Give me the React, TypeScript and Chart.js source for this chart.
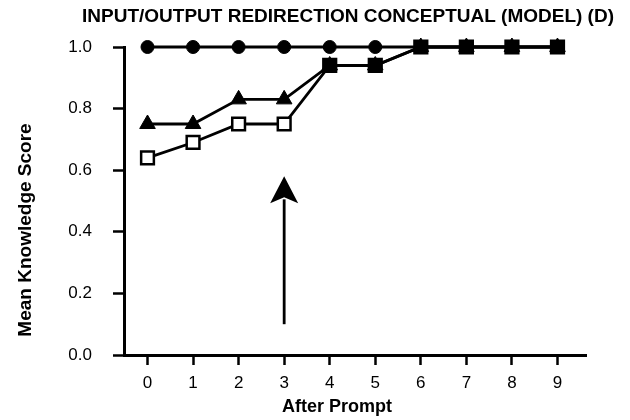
import React, { useEffect, useRef } from "react";
import { Chart, registerables } from "chart.js";

Chart.register(...registerables);

const steps = [0, 1, 2, 3, 4, 5, 6, 7, 8, 9];
const circleScores = [1, 1, 1, 1, 1, 1, 1, 1, 1, 1];
const triangleScores = [0.75, 0.75, 0.83, 0.83, 0.94, 0.94, 1, 1, 1, 1];
const squareScores = [0.64, 0.69, 0.75, 0.75, 0.94, 0.94, 1, 1, 1, 1];
const squareFilled = [false, false, false, false, true, true, true, true, true, true];
const yTicks = [0, 0.2, 0.4, 0.6, 0.8, 1.0];
const promptStep = 3;
const arrowFrom = 0.1;
const arrowTo = 0.58;
const titleText = "INPUT/OUTPUT REDIRECTION CONCEPTUAL (MODEL) (D)";
const xTitle = "After Prompt";
const yTitle = "Mean Knowledge Score";

const FONT = "'Liberation Sans', Arial, Helvetica, sans-serif";

const decorPlugin = {
  id: "decor",
  afterDraw(chart: any) {
    const ctx = chart.ctx;
    const xs = chart.scales.x;
    const ys = chart.scales.y;
    ctx.save();
    // arrow
    const ax = xs.getPixelForValue(promptStep);
    const yBottom = ys.getPixelForValue(arrowFrom);
    const yTip = ys.getPixelForValue(arrowTo);
    const headLen = 27;
    const headHalf = 14;
    ctx.strokeStyle = "#000";
    ctx.fillStyle = "#000";
    ctx.lineWidth = 2.8;
    ctx.beginPath();
    ctx.moveTo(ax, yBottom);
    ctx.lineTo(ax, yTip + headLen - 4);
    ctx.stroke();
    ctx.beginPath();
    ctx.moveTo(ax, yTip);
    ctx.lineTo(ax - headHalf, yTip + headLen);
    ctx.lineTo(ax, yTip + headLen - 6);
    ctx.lineTo(ax + headHalf, yTip + headLen);
    ctx.closePath();
    ctx.fill();

    // titles
    ctx.fillStyle = "#000";
    ctx.textAlign = "center";
    ctx.textBaseline = "middle";
    ctx.font = `bold 19px ${FONT}`;
    ctx.fillText(titleText, 348, 17);
    ctx.font = `bold 18px ${FONT}`;
    ctx.fillText(xTitle, 337, 407);
    ctx.font = `bold 19px ${FONT}`;
    ctx.translate(26, 230);
    ctx.rotate(-Math.PI / 2);
    ctx.fillText(yTitle, 0, 0);
    ctx.restore();
  },
};

export default function App() {
  const ref = useRef<HTMLCanvasElement | null>(null);

  useEffect(() => {
    if (!ref.current) return;
    const tickFont = { family: FONT, size: 17 };
    const chart = new Chart(ref.current, {
      type: "line",
      data: {
        datasets: [
          {
            data: steps.map((s, i) => ({ x: s, y: squareScores[i] })),
            borderColor: "#000",
            borderWidth: 2.8,
            pointStyle: "rect",
            pointRadius: 9,
            pointBorderWidth: 2.5,
            pointBorderColor: "#000",
            pointBackgroundColor: squareFilled.map((f) => (f ? "#000" : "#fff")),
            tension: 0,
            clip: false as any,
          },
          {
            data: steps.map((s, i) => ({ x: s, y: triangleScores[i] })),
            borderColor: "#000",
            borderWidth: 2.8,
            pointStyle: "triangle",
            pointRadius: 9,
            pointBorderWidth: 1,
            pointBorderColor: "#000",
            pointBackgroundColor: "#000",
            tension: 0,
            clip: false as any,
          },
          {
            data: steps.map((s, i) => ({ x: s, y: circleScores[i] })),
            borderColor: "#000",
            borderWidth: 2.8,
            pointStyle: "circle",
            pointRadius: 6.5,
            pointBorderWidth: 1,
            pointBorderColor: "#000",
            pointBackgroundColor: "#000",
            tension: 0,
            clip: false as any,
          },
        ],
      },
      options: {
        animation: false,
        responsive: false,
        events: [],
        layout: { padding: { top: 47, right: 44, left: 0, bottom: 0 } },
        plugins: {
          legend: { display: false },
          tooltip: { enabled: false },
          title: { display: false },
        },
        scales: {
          x: {
            type: "linear",
            min: -0.516,
            max: 9.626,
            afterBuildTicks: (s: any) => {
              s.ticks = steps.map((v) => ({ value: v }));
            },
            afterFit: (s: any) => {
              s.height = 65;
            },
            ticks: {
              color: "#000",
              font: tickFont,
              padding: 8,
              maxRotation: 0,
              autoSkip: false,
              callback: (v: any) => String(v),
            },
            grid: {
              display: true,
              drawOnChartArea: false,
              drawTicks: true,
              tickLength: 10,
              tickWidth: 2.5,
              tickColor: "#000",
            },
            border: { display: true, color: "#000", width: 3 },
          },
          y: {
            type: "linear",
            min: 0,
            max: 1,
            afterBuildTicks: (s: any) => {
              s.ticks = yTicks.map((v) => ({ value: v }));
            },
            afterFit: (s: any) => {
              s.width = 124;
            },
            ticks: {
              color: "#000",
              font: tickFont,
              padding: 21,
              callback: (v: any) => Number(v).toFixed(1),
            },
            grid: {
              display: true,
              drawOnChartArea: false,
              drawTicks: true,
              tickLength: 11,
              tickWidth: 2.5,
              tickColor: "#000",
            },
            border: { display: true, color: "#000", width: 3 },
          },
        },
      },
      plugins: [decorPlugin],
    });
    return () => chart.destroy();
  }, []);

  return (
    <div style={{ position: "fixed", left: 0, top: 0, width: 630, height: 420, background: "#fff" }}>
      <canvas ref={ref} width={630} height={420} style={{ width: 630, height: 420 }} />
    </div>
  );
}
